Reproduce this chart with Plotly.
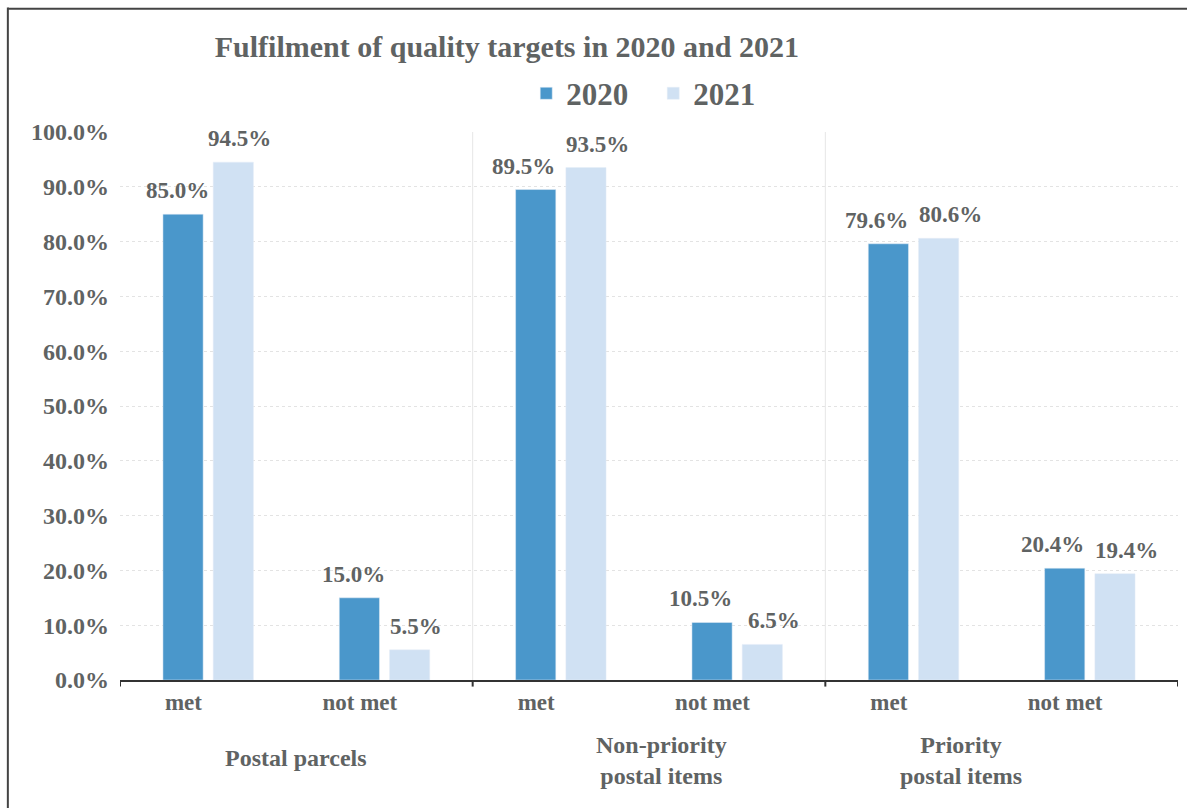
import plotly.graph_objects as go

# Data
categories = ["met", "not met", "met", "not met", "met", "not met"]
groups = ["Postal parcels", "Non-priority<br>postal items", "Priority<br>postal items"]
values_2020 = [85.0, 15.0, 89.5, 10.5, 79.6, 20.4]
values_2021 = [94.5, 5.5, 93.5, 6.5, 80.6, 19.4]
y_ticks = [0, 10, 20, 30, 40, 50, 60, 70, 80, 90, 100]

FONT = "Liberation Serif"
GREY = "#5f6363"
x_pos = list(range(len(categories)))

fig = go.Figure()
fig.add_trace(go.Bar(x=x_pos, y=values_2020, name="<b>2020</b>", marker=dict(color="#4a97cb")))
fig.add_trace(go.Bar(x=x_pos, y=values_2021, name="<b>2021</b>", marker=dict(color="#d0e1f3")))

# Separators between the three groups
shapes = []
for xb in [1.5, 3.5]:
    shapes.append(dict(type="line", xref="x", yref="y", x0=xb, x1=xb, y0=0, y1=100,
                       line=dict(color="#e6e6e6", width=1)))
    shapes.append(dict(type="line", xref="x", yref="paper", x0=xb, x1=xb, y0=0, y1=-0.012,
                       line=dict(color="#333333", width=2)))
for xb in [-0.5, 5.5]:
    shapes.append(dict(type="line", xref="x", yref="paper", x0=xb, x1=xb, y0=0, y1=-0.012,
                       line=dict(color="#333333", width=2)))
# Outer frame (left and top edges)
shapes.append(dict(type="line", xref="paper", yref="paper", x0=-0.106, x1=-0.106, y0=1.227, y1=-0.24,
                   line=dict(color="#444444", width=2)))
shapes.append(dict(type="line", xref="paper", yref="paper", x0=-0.106, x1=1.01, y0=1.225, y1=1.225,
                   line=dict(color="#444444", width=2)))

annotations = []

# Value labels above each bar; neighbouring labels of near-equal bars are pushed apart
BAR_OFFSET = 25
for i, (a, b) in enumerate(zip(values_2020, values_2021)):
    nudge = 12 if abs(a - b) < 5 else 6
    for v, side in ((a, -1), (b, 1)):
        annotations.append(dict(
            x=i, y=v, xref="x", yref="y", xshift=side * (BAR_OFFSET + nudge), yshift=9,
            text="<b>%.1f%%</b>" % v, showarrow=False, yanchor="bottom", xanchor="center",
            font=dict(family=FONT, size=23, color=GREY),
        ))

# Group labels under the categories
group_x = [0.5, 2.57, 4.27]
for gx, gl in zip(group_x, groups):
    annotations.append(dict(
        x=gx, y=-0.115 if "<br>" not in gl else -0.092, xref="x", yref="paper",
        text="<b>" + gl + "</b>", showarrow=False, yanchor="top", align="center",
        font=dict(family=FONT, size=24, color=GREY),
    ))

fig.update_layout(
    width=1187, height=808,
    margin=dict(l=120, r=9, t=132, b=128),
    paper_bgcolor="white", plot_bgcolor="white",
    barmode="group", bargap=0.43, bargroupgap=0.2,
    title=dict(
        text="<b>Fulfilment of quality targets in 2020 and 2021</b>",
        x=0.427, xanchor="center", y=0.942, yanchor="middle",
        font=dict(family=FONT, size=30, color=GREY),
    ),
    legend=dict(
        orientation="h", x=0.504, xanchor="center", y=1.07, yanchor="middle",
        font=dict(family=FONT, size=31, color=GREY),
        itemwidth=30, traceorder="normal", entrywidth=82,
    ),
    xaxis=dict(
        range=[-0.5, 5.5],
        tickvals=[x - 0.14 for x in x_pos],
        ticktext=["<b>" + c + "</b>" for c in categories],
        tickfont=dict(family=FONT, size=23, color=GREY),
        showgrid=False, ticks="", showline=True, linecolor="#333333", linewidth=2,
        zeroline=False,
    ),
    yaxis=dict(
        range=[0, 100], tickvals=y_ticks,
        ticktext=["<b>%.1f%%</b>" % v for v in y_ticks],
        tickfont=dict(family=FONT, size=24, color=GREY),
        showgrid=True, gridcolor="#e3e3e3", gridwidth=1, griddash="dot",
        zeroline=False, ticks="", ticklabelstandoff=10,
    ),
    shapes=shapes, annotations=annotations,
    font=dict(family=FONT, color=GREY),
)

fig.write_html("out.html")
